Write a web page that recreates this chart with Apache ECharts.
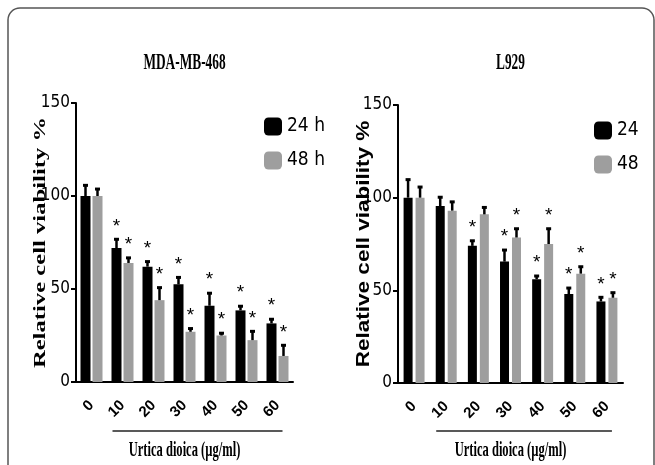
<!DOCTYPE html>
<html><head><meta charset="utf-8">
<script src="https://cdn.jsdelivr.net/npm/echarts@6/dist/echarts.min.js"></script>
<style>html,body{margin:0;padding:0;background:#fff}#c{width:655px;height:465px}</style>
</head><body><div id="c"></div>
<script>
const categories = ['0', '10', '20', '30', '40', '50', '60'];
const yTicks = [0, 50, 100, 150];

const mda24 = [100, 72, 62, 52.5, 41, 38.5, 31.5];
const mda24Err = [6, 5, 3, 4, 7, 2.5, 2.5];
const mda48 = [100, 64, 44, 27, 25, 22.5, 14];
const mda48Err = [4, 3, 7, 2, 1.5, 5, 6];
const mdaSig24 = [0, 1, 1, 1, 1, 1, 1];
const mdaSig48 = [0, 1, 1, 1, 1, 1, 1];

const l929_24 = [100, 95.5, 74, 65.5, 56, 48, 44];
const l929_24Err = [10, 5, 3, 6.5, 2, 3.5, 2.5];
const l929_48 = [100, 93, 91, 78.5, 75, 59, 46];
const l929_48Err = [6, 5, 4, 5, 8.5, 4, 3];
const l929Sig24 = [0, 0, 1, 1, 1, 1, 1];
const l929Sig48 = [0, 0, 0, 1, 1, 1, 1];

const titleLeft = 'MDA-MB-468';
const titleRight = 'L929';
const xName = 'Urtica dioica (µg/ml)';
const yName = 'Relative cell viability %';
const legendLeft = ['24 h', '48 h'];
const legendRight = ['24', '48'];

const BLACK = '#000';
const GRAY = '#9e9e9e';
const NARROW = '"Liberation Sans Narrow","DejaVu Sans Condensed","Arial Narrow",sans-serif';
const SERIF = '"Liberation Serif","Times New Roman",serif';
const SANS = '"Liberation Sans",Arial,sans-serif';

const G = [
  {left: 76, top: 103, width: 217, height: 279},
  {left: 398, top: 105, width: 225, height: 278}
];

const chart = echarts.init(document.getElementById('c'));

function errRender(offset) {
  return function (params, api) {
    const ci = api.value(0), v = api.value(1), e = api.value(2), s = api.value(3);
    const p0 = api.coord([ci, v]);
    const p1 = api.coord([ci, v + e]);
    const x = p0[0] + offset;
    const ch = [
      {type: 'line', shape: {x1: x, y1: p0[1], x2: x, y2: p1[1]}, style: {stroke: BLACK, lineWidth: 2.5}},
      {type: 'rect', shape: {x: x - 2.5, y: p1[1] - 1, width: 5, height: 3}, style: {fill: BLACK}}
    ];
    if (s) ch.push({type: 'text', x: x, y: p1[1] - 3,
      style: {text: '*', fill: BLACK, fontSize: 19, fontFamily: SANS, align: 'center', verticalAlign: 'bottom', textAlign: 'center', textVerticalAlign: 'bottom'}});
    return {type: 'group', children: ch};
  };
}
function errData(vals, errs, sig) { return vals.map((v, i) => [i, v, errs[i], sig[i]]); }

function xAxis(i) {
  return {type: 'category', gridIndex: i, data: categories,
    axisLine: {lineStyle: {color: BLACK, width: 2}},
    axisTick: {alignWithLabel: true, length: 6, lineStyle: {color: BLACK, width: 2}},
    axisLabel: {rotate: 45, color: BLACK, fontWeight: 'bold', fontSize: 15, fontFamily: SANS, margin: 21}
  };
}
function yAxis(i) {
  return {type: 'value', gridIndex: i, min: yTicks[0], max: yTicks[yTicks.length - 1], interval: yTicks[1] - yTicks[0],
    splitLine: {show: false},
    axisLine: {show: true, lineStyle: {color: BLACK, width: 2}},
    axisTick: {show: true, length: 5, lineStyle: {color: BLACK, width: 2}},
    axisLabel: {color: BLACK, fontSize: 17, fontFamily: NARROW, margin: 6}
  };
}
function legend(i, names, left, top) {
  return {data: names, orient: 'vertical', left: left, top: top, itemWidth: 18, itemHeight: 18, itemGap: 15,
    icon: 'roundRect', textStyle: {fontSize: 19, fontFamily: NARROW, color: BLACK}};
}
function bar(name, data, color, gi, bw, gap) {
  return {name: name, type: 'bar', xAxisIndex: gi, yAxisIndex: gi, data: data, barWidth: bw, barGap: gap,
    itemStyle: {color: color}, emphasis: {disabled: true}, z: 2};
}
function err(data, gi, off) {
  return {type: 'custom', xAxisIndex: gi, yAxisIndex: gi, renderItem: errRender(off), data: data, z: 3, silent: true};
}

chart.setOption({
  animation: false,
  backgroundColor: '#fff',
  grid: G.map(g => Object.assign({}, g)),
  xAxis: [xAxis(0), xAxis(1)],
  yAxis: [yAxis(0), yAxis(1)],
  legend: [legend(0, legendLeft, 259, 112), legend(1, legendRight, 589, 116)],
  series: [
    bar(legendLeft[0], mda24, BLACK, 0, 10, '20%'),
    bar(legendLeft[1], mda48, GRAY, 0, 10, '20%'),
    err(errData(mda24, mda24Err, mdaSig24), 0, -6),
    err(errData(mda48, mda48Err, mdaSig48), 0, 6),
    bar(legendRight[0], l929_24, BLACK, 1, 9, '33%'),
    bar(legendRight[1], l929_48, GRAY, 1, 9, '33%'),
    err(errData(l929_24, l929_24Err, l929Sig24), 1, -6),
    err(errData(l929_48, l929_48Err, l929Sig48), 1, 6)
  ]
});

function txt(t, x, y, size, family, weight, sx, rot) {
  return {type: 'text', x: x, y: y, scaleX: sx || 1, rotation: rot || 0, silent: true,
    style: {text: t, fontSize: size, fontFamily: family, fontWeight: weight, fill: BLACK,
      align: 'center', verticalAlign: 'middle', textAlign: 'center', textVerticalAlign: 'middle'}};
}
const graphics = [
  {type: 'rect', shape: {x: 8, y: 8, width: 646, height: 520, r: 12}, style: {fill: 'none', stroke: '#555', lineWidth: 1.5}, silent: true}
];
const titles = [titleLeft, titleRight];
const yFam = [SERIF, SANS];
const ySize = [17, 18];
const yScale = [1.45, 1.25];
const yNameX = [41, 364];
G.forEach((g, i) => {
  const cx = g.left + g.width / 2;
  const cy = g.top + g.height / 2;
  graphics.push(txt(titles[i], cx, 63, 23, SERIF, 'bold', 0.58));
  graphics.push(txt(yName, yNameX[i], cy, ySize[i], yFam[i], 'bold', yScale[i], Math.PI / 2));
  const p1 = chart.convertToPixel({gridIndex: i}, [1, 0]);
  const p6 = chart.convertToPixel({gridIndex: i}, [categories.length - 1, 0]);
  graphics.push({type: 'line', silent: true, shape: {x1: p1[0] - 10, y1: 431, x2: p6[0] + 5, y2: 431}, style: {stroke: '#222', lineWidth: 1.5}});
  graphics.push(txt(xName, cx, 450, 22, SERIF, 'bold', 0.57));
});
chart.setOption({graphic: graphics});
</script>
</body></html>
